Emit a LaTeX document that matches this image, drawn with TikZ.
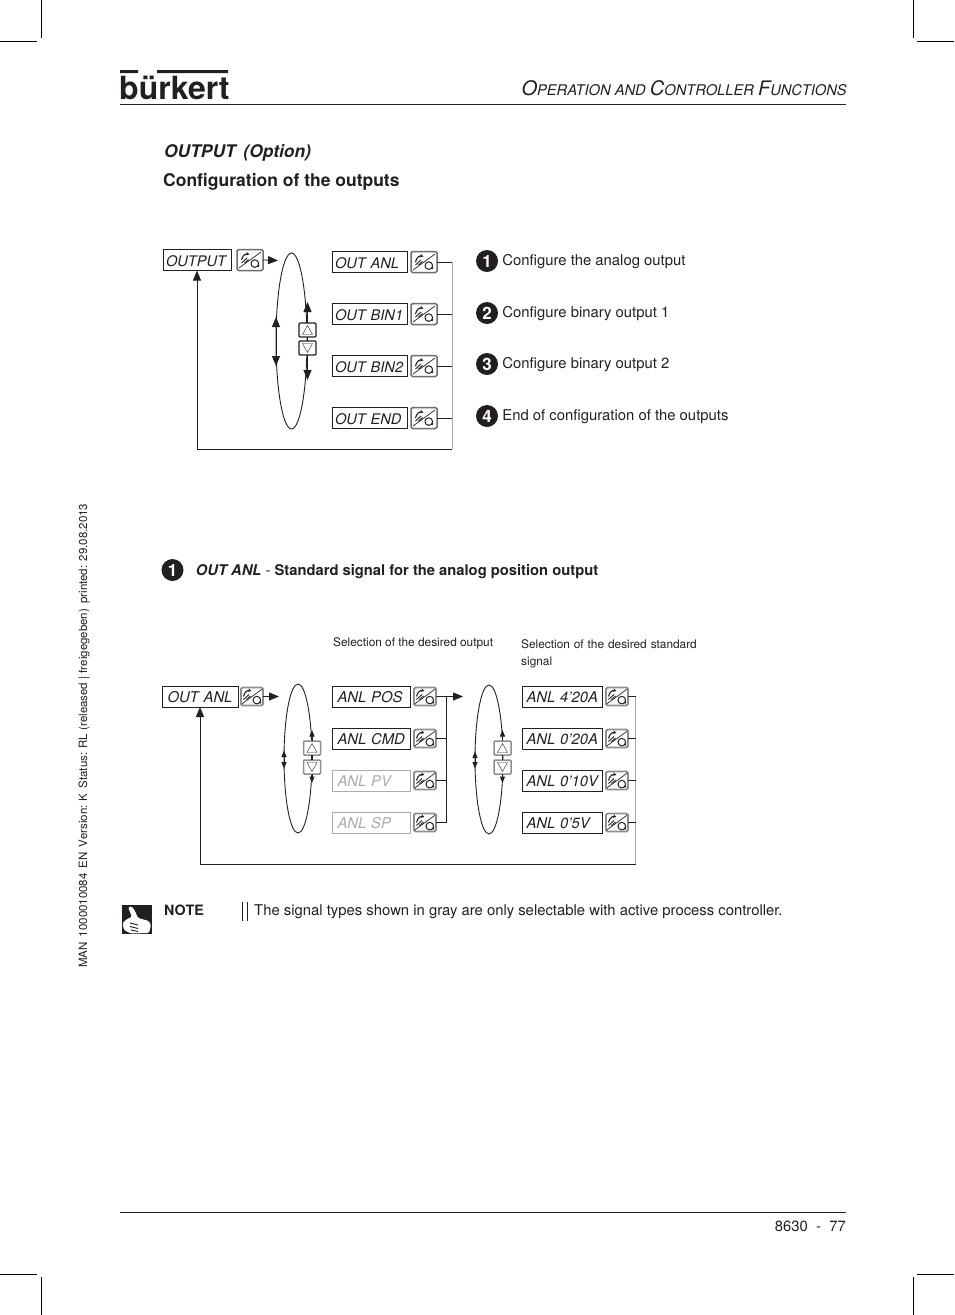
\documentclass[tikz,border=0pt]{standalone}
\usepackage{fontspec}
\setmainfont{TeX Gyre Heros}
\usepackage{xcolor}
\usetikzlibrary{positioning,arrows.meta,shapes.geometric,calc}
\definecolor{cnegro}{HTML}{231F20}
\definecolor{cgris}{HTML}{6E6E6E}
\definecolor{cmedio}{HTML}{8F8F8F}
\definecolor{cclaro}{HTML}{ABABAB}
\newcommand{\iconotecla}[1]{%
  \begin{scope}[shift={(path picture bounding box.center)}, scale=#1, sharp corners]
    \draw[cnegro, line width=0.7pt] (-11,8) -- (11,-8);
    \draw[cnegro, line width=1pt] (4.8,3.6) circle (3.8);
    \draw[cnegro, line width=1.1pt, -{Stealth[length=3.5pt,width=3.5pt]}] (-8.5,0) .. controls (-7.5,-5) and (-4,-6.5) .. (-0.5,-5.5);
    \draw[cnegro, line width=0.9pt] (-8.5,3) -- (-3,-2) (-5.5,3) -- (-1.5,-0.5);
    \draw[cnegro, line width=1pt] (8,7) -- (9,5);
  \end{scope}}
\tikzset{
  caja/.style={rectangle, draw=cnegro, line width=0.8pt, fill=white, inner sep=0pt, inner xsep=3pt, outer sep=0pt,
    minimum height=21pt, text width=69pt, align=left, font=\fontsize{14.6}{15}\selectfont\itshape,
    text=cnegro, text height=12.5pt, text depth=0pt},
  cajab/.style={caja, line width=1pt, inner xsep=5.5pt, text width=67pt, font=\fontsize{14.8}{16}\selectfont\itshape},
  cajag/.style={cajab, draw=cclaro, text=cclaro, line width=0.8pt},
  cajac/.style={cajab, inner xsep=4.5pt, text width=71pt},
  tecla/.style={rectangle, rounded corners=1.5pt, draw=cgris, line width=1.5pt, fill=white, inner sep=0pt, outer sep=0pt,
    minimum width=26pt, minimum height=21pt, path picture={\iconotecla{1}}},
  teclab/.style={tecla, draw=cmedio, line width=1.8pt, minimum width=22pt, minimum height=18pt,
    path picture={\iconotecla{0.85}}},
  subir/.style={rectangle, rounded corners=1pt, draw=cnegro, line width=1.2pt, fill=white, inner sep=0pt, outer sep=0pt,
    minimum width=17pt, minimum height=14pt, path picture={
      \draw[cnegro, line width=0.4pt, sharp corners, shift={(path picture bounding box.center)}] (-5,4.5) -- (0,-4.5) -- (5,4.5) -- cycle;}},
  bajar/.style={subir, path picture={
      \draw[cnegro, line width=0.4pt, sharp corners, shift={(path picture bounding box.center)}] (-5,-4.5) -- (0,4.5) -- (5,-4.5) -- cycle;}},
  subirb/.style={subir, draw=cmedio, line width=1.5pt},
  bajarb/.style={bajar, draw=cmedio, line width=1.5pt},
  ovalo/.style={ellipse, draw=cnegro, line width=0.9pt, inner sep=0pt, outer sep=0pt},
  flecha/.style={-{Triangle[length=10pt,width=8pt]}, line width=0.8pt, draw=cnegro},
  flechab/.style={-{Triangle[length=6.5pt,width=5pt]}, line width=1pt, draw=cnegro},
  linea/.style={line width=0.7pt, draw=cnegro},
  lineag/.style={line width=0.7pt, draw=cclaro},
  num/.style={circle, fill=cnegro, text=white, inner sep=0pt, minimum size=22pt,
    font=\fontsize{17}{17}\selectfont\bfseries},
  etq/.style={inner sep=0pt, anchor=west, font=\fontsize{14.85}{15}\selectfont, text=cnegro,
    text height=10.5pt, text depth=3pt},
  etqs/.style={etq, font=\fontsize{11.85}{17}\selectfont, text height=9pt},
  corte/.style={line width=0.5pt, draw=black},
}
\begin{document}
\begin{tikzpicture}[x=1pt, y=-1pt]
  \useasboundingbox (0,0) rectangle (954,1315);
  % marks
  \draw[corte] (41,0) -- (41,38) (0,41) -- (37,41) (913,0) -- (913,38) (917,41) -- (954,41);
  \draw[corte] (41,1277) -- (41,1315) (0,1274) -- (37,1274) (913,1277) -- (913,1315) (917,1274) -- (954,1274);
  % head
  \fill[cnegro] (120,70) rectangle (138,73) (157,70) rectangle (228,73);
  \node[inner sep=0pt, anchor=base west, font=\fontsize{32}{33}\selectfont\bfseries, text=cnegro] (logo) at (119,99.5) {bürkert};
  \draw[linea] (120,104.5) -- (846,104.5);
  \node[inner sep=0pt, anchor=base east, font=\fontsize{14.7}{15}\selectfont\itshape, text=cnegro] (cabeza) at (847,95)
    {{\fontsize{20}{15}\selectfont O}PERATION AND {\fontsize{20}{15}\selectfont C}ONTROLLER {\fontsize{20}{15}\selectfont F}UNCTIONS};
  \node[etq, font=\fontsize{17.4}{18}\selectfont\bfseries\itshape] (titulo) at (164,154) {OUTPUT\, (Option)};
  \node[etq, font=\fontsize{17.5}{18}\selectfont\bfseries] (subtitulo) at (163,183) {Configuration of the outputs};

  % upper diagram
  \node[caja, text width=62pt, anchor=north west] (output) at (163,249.5) {OUTPUT};
  \node[tecla, right=6pt of output] (koutput) {};
  \node[ovalo, minimum width=31pt, minimum height=176pt] (oval1) at (291.5,341) {};
  \node[subir] (up1) at (307.5,330) {};
  \node[bajar, below=4pt of up1] (dn1) {};

  \node[caja, anchor=north west] (anl) at (332,251.5) {OUT~ANL};
  \node[caja, below=31pt of anl] (bin1) {OUT~BIN1};
  \node[caja, below=31pt of bin1] (bin2) {OUT~BIN2};
  \node[caja, below=31pt of bin2] (fin) {OUT~END};
  \node[tecla, right=4pt of anl] (kanl) {};
  \node[tecla, right=4pt of bin1] (kbin1) {};
  \node[tecla, right=4pt of bin2] (kbin2) {};
  \node[tecla, right=4pt of fin] (kfin) {};
  \coordinate (busa) at (452,449);
  \coordinate (ojo1) at (278,260.5);

  \draw[flecha] (koutput.east) -- (ojo1);
  \draw[line width=1.1pt, draw=cnegro] (up1) -- (dn1);
  \draw[flecha] (up1.north) -- ++(0,-21);
  \draw[flecha] (dn1.south) -- ++(0,25);
  \draw[flecha] (oval1.west) -- ++(0,-24);
  \draw[flecha] (oval1.west) -- ++(0,25);
  \draw[lineag] (kanl.east -| busa) -- (busa);
  \draw[linea] (kanl.east) -- (kanl.east -| busa);
  \draw[linea] (kbin1.east) -- (kbin1.east -| busa);
  \draw[linea] (kbin2.east) -- (kbin2.east -| busa);
  \draw[linea] (kfin.east) -- (kfin.east -| busa);
  \draw[flecha] (busa) -| (output.south);

  \node[num] (n1) at (487,261) {1};
  \node[num] (n2) at (487,313) {2};
  \node[num] (n3) at (487,364) {3};
  \node[num] (n4) at (487,416) {4};
  \node[etq, right=4pt of n1.east, anchor=west, yshift=-1pt] (t1) {Configure the analog output};
  \node[etq, right=4pt of n2.east, anchor=west, yshift=-1pt] (t2) {Configure binary output 1};
  \node[etq, right=4pt of n3.east, anchor=west, yshift=-1pt] (t3) {Configure binary output 2};
  \node[etq, right=4pt of n4.east, anchor=west, yshift=-1pt] (t4) {End of configuration of the outputs};

  % lower title
  \node[num] (n5) at (172.5,570) {1};
  \node[etq, font=\fontsize{14.75}{15}\selectfont, right=12pt of n5.east, anchor=west, yshift=-1.5pt] (t5)
    {\bfseries{\itshape OUT ANL} {\mdseries -} Standard signal for the analog position output};
  \node[etqs] (sel1) at (333,643) {Selection of the desired output};
  \node[etqs, align=left, anchor=north west, text width=190pt] (sel2) at (521,639) {Selection of the desired standard\\signal};

  % lower diagram
  \node[cajab, text width=65pt, anchor=north west] (outanl) at (162,686) {OUT~ANL};
  \node[teclab, right=3pt of outanl] (koutanl) {};
  \node[ovalo, minimum width=28pt, minimum height=149pt] (oval2) at (298,758.5) {};
  \node[subirb] (up2) at (312,748) {};
  \node[bajarb, below=5pt of up2] (dn2) {};
  \node[cajab, anchor=north west] (pos) at (332,686) {ANL~POS};
  \node[cajab, below=21pt of pos] (cmd) {ANL~CMD};
  \node[cajag, below=21pt of cmd] (pv) {ANL~PV};
  \node[cajag, below=21pt of pv] (sp) {ANL~SP};
  \node[teclab, right=4pt of pos] (kpos) {};
  \node[teclab, right=4pt of cmd] (kcmd) {};
  \node[teclab, right=4pt of pv] (kpv) {};
  \node[teclab, right=4pt of sp] (ksp) {};
  \coordinate (busb) at (446,696.5);
  \coordinate (ojo2) at (279,696.5);
  \coordinate (ojo3) at (463,696.5);

  \node[ovalo, minimum width=28pt, minimum height=149pt] (oval3) at (489,759.5) {};
  \node[subirb] (up3) at (502.5,748) {};
  \node[bajarb, below=5pt of up3] (dn3) {};
  \node[cajac, anchor=north west] (a420) at (522,686) {ANL~4'20A};
  \node[cajac, below=21pt of a420] (a020) {ANL~0'20A};
  \node[cajac, below=21pt of a020] (a010) {ANL~0'10V};
  \node[cajac, below=21pt of a010] (a05) {ANL~0'5V};
  \node[teclab, right=4pt of a420] (k420) {};
  \node[teclab, right=4pt of a020] (k020) {};
  \node[teclab, right=4pt of a010] (k010) {};
  \node[teclab, right=4pt of a05] (k05) {};
  \coordinate (busc) at (635.5,864);

  \draw[flecha] (koutanl.east) -- (ojo2);
  \draw[line width=1.1pt, draw=cnegro] (up2) -- (dn2);
  \draw[flechab] (up2.north) -- ++(0,-11);
  \draw[flechab] (dn2.south) -- ++(0,9);
  \draw[flechab] (oval2.west) -- ++(0,-8);
  \draw[flechab] (oval2.west) -- ++(0,10);
  \draw[line width=1.1pt, draw=cnegro] (up3) -- (dn3);
  \draw[flechab] (up3.north) -- ++(0,-11);
  \draw[flechab] (dn3.south) -- ++(0,9);
  \draw[flechab] (oval3.west) -- ++(0,-8);
  \draw[flechab] (oval3.west) -- ++(0,9);
  \draw[flecha] (kpos.east) -- (ojo3);
  \draw[linea, line width=1pt] (kcmd.east) -- (kcmd.east -| busb);
  \draw[linea, line width=1pt] (kpv.east) -- (kpv.east -| busb);
  \draw[linea, line width=1pt] (ksp.east) -| (busb);
  \draw[lineag] (k420.east -| busc) -- (busc);
  \draw[linea] (k420.east) -- (k420.east -| busc);
  \draw[linea] (k020.east) -- (k020.east -| busc);
  \draw[linea] (k010.east) -- (k010.east -| busc);
  \draw[linea] (k05.east) -- (k05.east -| busc);
  \draw[flecha, line width=1pt] (busc) -| (outanl.south);

  % note
  \fill[cnegro] (122,905) rectangle (152,934);
  \fill[white, rounded corners=1.5pt] (128,907) -- (132,906.5) -- (135,911) -- (138,918) -- (149,921) -- (151,925) -- (149,933) -- (131,933.5) -- (124,930) -- (122.5,923) -- (127,919) -- (132,917) -- cycle;
  \draw[cnegro, line width=0.9pt] (130,923) -- (138,925) (130,926.5) -- (138,928.5) (131,930) -- (138,931.5);
  \node[etq, font=\fontsize{14.3}{15}\selectfont\bfseries] (nota) at (164,912) {NOTE};
  \draw[linea] (242,902) -- (242,921) (247,902) -- (247,921);
  \node[etq] (txtnota) at (254,912) {The signal types shown in gray are only selectable with active process controller.};

  % foot
  \draw[linea] (120,1212) -- (846,1212);
  \node[etq, anchor=east] (pagina) at (846,1228) {8630\ \ -\ \ 77};
  \node[inner sep=0pt, rotate=90, anchor=west, font=\fontsize{11.5}{12}\selectfont, text=cnegro] (margen) at (84,968)
    {MAN\, 1000010084\, EN\, Version: K\, Status: RL (released | freigegeben)\, printed: 29.08.2013};
\end{tikzpicture}
\end{document}
